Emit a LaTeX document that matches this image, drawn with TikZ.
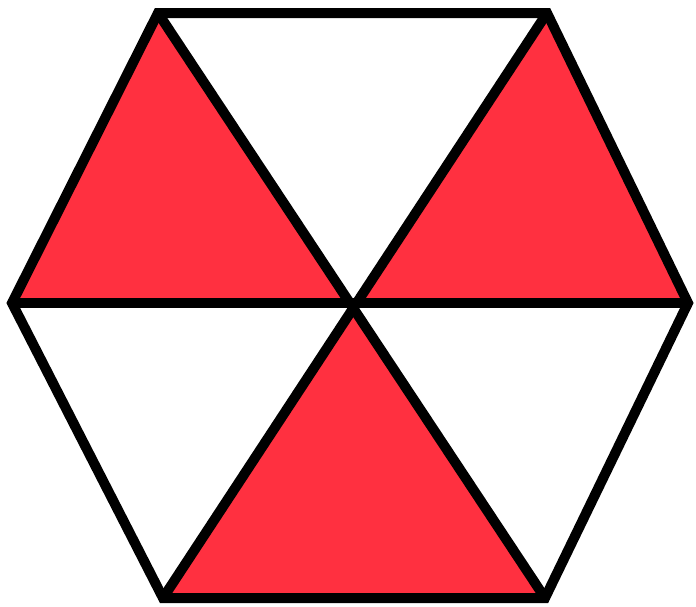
\documentclass[tikz,border=0pt]{standalone}
\definecolor{hexred}{RGB}{255,48,64}
\begin{document}
\begin{tikzpicture}[x=1pt,y=-1pt,
  edge/.style={line width=10pt,line join=miter,line cap=round},
  redfill/.style={fill=hexred}]
\useasboundingbox (0,0) rectangle (696,606);
\coordinate (A) at (158,13);
\coordinate (B) at (547,13);
\coordinate (C) at (688,303);
\coordinate (D) at (545,598);
\coordinate (E) at (163,598);
\coordinate (F) at (12,303);
\coordinate (O) at (352,302);
\fill[redfill] (F) -- (A) -- (O) -- cycle;
\fill[redfill] (O) -- (B) -- (C) -- cycle;
\fill[redfill] (O) -- (D) -- (E) -- cycle;
\draw[edge] (A) -- (B) -- (C) -- (D) -- (E) -- (F) -- cycle;
\draw[edge] (A) -- (D);
\draw[edge] (B) -- (E);
\draw[edge] (F) -- (C);
\end{tikzpicture}
\end{document}
